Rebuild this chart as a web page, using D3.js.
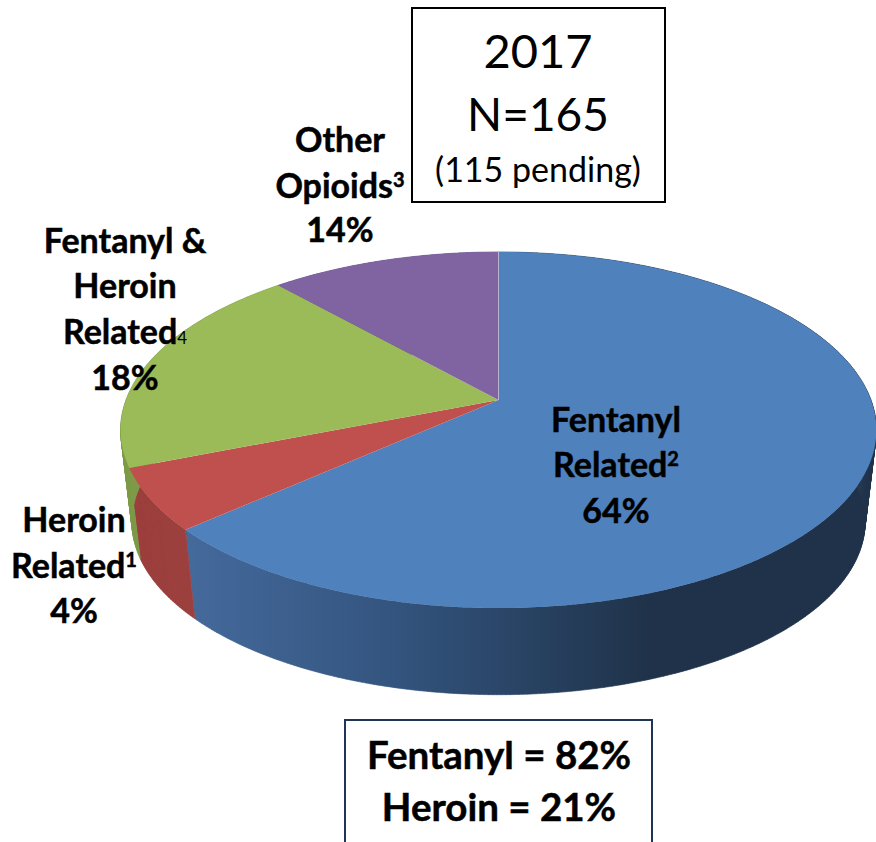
<!DOCTYPE html>
<html>
<head>
<meta charset="utf-8">
<script src="https://d3js.org/d3.v7.min.js"></script>
<style>
    html, body { margin: 0; padding: 0; background: #fff; }
    svg { display: block; }
    text { font-family: Lato, "Open Sans", sans-serif; fill: #000; }
    text.heavy { font-weight: bold; stroke: #000; stroke-width: 0.5px; }
</style>
</head>
<body>
<div id="chart"></div>
<script>
// Slices clockwise from 12 o'clock. The printed percents and the drawn shares
// differ in the original, so both are kept.
const categories = ['Fentanyl Related', 'Heroin Related', 'Fentanyl & Heroin Related', 'Other Opioids'];
const percentLabels = ['64%', '4%', '18%', '14%'];
const sliceShares = [63.4, 5.6, 19.4, 11.6];
const topColors = ['#4f81bd', '#c0504d', '#9bbb59', '#8064a2'];
const wallColors = ['url(#blue-wall)', '#9c403e', '#7e9a48', '#66508a'];
const titleLines = ['2017', 'N=165', '(115 pending)'];
const summaryLines = ['Fentanyl = 82%', 'Heroin = 21%'];

function drawChart() {
    const width = 876;
    const height = 842;

    const svg = d3.select('#chart').append('svg')
        .attr('width', width)
        .attr('height', height)
        .attr('viewBox', `0 0 ${width} ${height}`);

    // Perspective of the tilted disc: far edge y=252, apex y=400, near edge y=608
    const apex = { x: 498.5, y: 400 };
    const persp = -0.1685;
    const scaleX = 372.5;
    const scaleY = 173;

    function rimPoint(angle) {
        const u = Math.sin(angle);
        const v = -Math.cos(angle);
        const d = 1 + persp * v;
        return [apex.x + scaleX * u / d, apex.y + scaleY * v / d];
    }

    // Lower edge of the wall, slightly smaller because it is further away
    const wallShrink = 0.97;
    const wallDrop = 92;
    function basePoint(angle) {
        const p = rimPoint(angle);
        return [
            apex.x + (p[0] - apex.x) * wallShrink,
            430 + (p[1] - 430) * wallShrink + wallDrop
        ];
    }

    const slices = d3.pie().sort(null)(sliceShares);
    const line = d3.line();

    const defs = svg.append('defs');
    const blueWall = defs.append('linearGradient')
        .attr('id', 'blue-wall')
        .attr('gradientUnits', 'userSpaceOnUse')
        .attr('x1', 190).attr('x2', 650)
        .attr('y1', 0).attr('y2', 0);
    blueWall.append('stop').attr('offset', '0%').attr('stop-color', '#44699b');
    blueWall.append('stop').attr('offset', '45%').attr('stop-color', '#33547e');
    blueWall.append('stop').attr('offset', '100%').attr('stop-color', '#1f3249');

    function anglesOf(d) {
        const count = Math.ceil((d.endAngle - d.startAngle) / 0.01);
        return d3.range(count + 1).map(i => d.startAngle + (d.endAngle - d.startAngle) * i / count);
    }

    // Side walls as thin quads, so the silhouette keeps its straight sides
    function wallPath(d) {
        const angles = anglesOf(d);
        return d3.pairs(angles).map(([a, b]) =>
            line([rimPoint(a), rimPoint(b), basePoint(b), basePoint(a)]) + 'Z'
        ).join('');
    }

    svg.append('g').selectAll('path')
        .data(slices)
        .enter()
        .append('path')
        .attr('d', wallPath)
        .attr('fill', (d, i) => wallColors[i])
        .attr('stroke', (d, i) => wallColors[i])
        .attr('stroke-width', 0.6);

    // Top surface
    svg.append('g').selectAll('path')
        .data(slices)
        .enter()
        .append('path')
        .attr('d', d => line([[apex.x, apex.y]].concat(anglesOf(d).map(rimPoint))) + 'Z')
        .attr('fill', (d, i) => topColors[i]);

    // Faint light seam between purple and blue
    svg.append('path')
        .attr('d', line([[apex.x, apex.y], rimPoint(0)]))
        .attr('stroke', '#b9b3d0')
        .attr('stroke-width', 1)
        .attr('fill', 'none');

    // Slice labels, one block per category
    function addLabel(cx, baselines, names, index, note) {
        const size = 34;
        names.forEach((name, i) => {
            const t = svg.append('text')
                .attr('class', 'heavy')
                .attr('x', cx)
                .attr('y', baselines[i])
                .attr('text-anchor', 'middle')
                .style('font-size', size + 'px')
                .text(name);
            if (i === names.length - 1) {
                t.append('tspan')
                    .attr('dy', note.dy)
                    .style('font-size', note.size + 'px')
                    .style('font-weight', note.weight)
                    .style('stroke-width', note.weight === 'bold' ? '0.5px' : '0px')
                    .text(note.text);
            }
        });
        svg.append('text')
            .attr('class', 'heavy')
            .attr('x', cx)
            .attr('y', baselines[names.length])
            .attr('text-anchor', 'middle')
            .style('font-size', size + 'px')
            .text(percentLabels[index]);
    }

    addLabel(616, [432, 477, 523], ['Fentanyl', 'Related'], 0, { text: '2', size: 20, weight: 'bold', dy: -11 });
    addLabel(74, [532, 578, 623], ['Heroin', 'Related'], 1, { text: '1', size: 20, weight: 'bold', dy: -11 });
    addLabel(125, [253, 298, 344, 390], ['Fentanyl &', 'Heroin', 'Related'], 2, { text: '4', size: 17, weight: 'normal', dy: 0 });
    addLabel(340, [152, 198, 242], ['Other', 'Opioids'], 3, { text: '3', size: 20, weight: 'bold', dy: -11 });

    // Title box
    svg.append('rect')
        .attr('x', 412).attr('y', 8)
        .attr('width', 253).attr('height', 194)
        .attr('fill', '#fff')
        .attr('stroke', '#000')
        .attr('stroke-width', 2);

    const titleSizes = [47, 46, 34];
    const titleBaselines = [68, 131, 182];
    svg.append('g').selectAll('text')
        .data(titleLines)
        .enter()
        .append('text')
        .attr('x', 538)
        .attr('y', (d, i) => titleBaselines[i])
        .attr('text-anchor', 'middle')
        .style('font-size', (d, i) => titleSizes[i] + 'px')
        .text(d => d);

    // Summary box, its bottom edge falls just outside the picture
    svg.append('rect')
        .attr('x', 345).attr('y', 720)
        .attr('width', 307).attr('height', 124)
        .attr('fill', '#fff')
        .attr('stroke', '#1f3552')
        .attr('stroke-width', 2);

    const summaryBaselines = [769, 821];
    svg.append('g').selectAll('text')
        .data(summaryLines)
        .enter()
        .append('text')
        .attr('class', 'heavy')
        .attr('x', 499)
        .attr('y', (d, i) => summaryBaselines[i])
        .attr('text-anchor', 'middle')
        .style('font-size', '38.5px')
        .text(d => d);
}

drawChart();
</script>
</body>
</html>
